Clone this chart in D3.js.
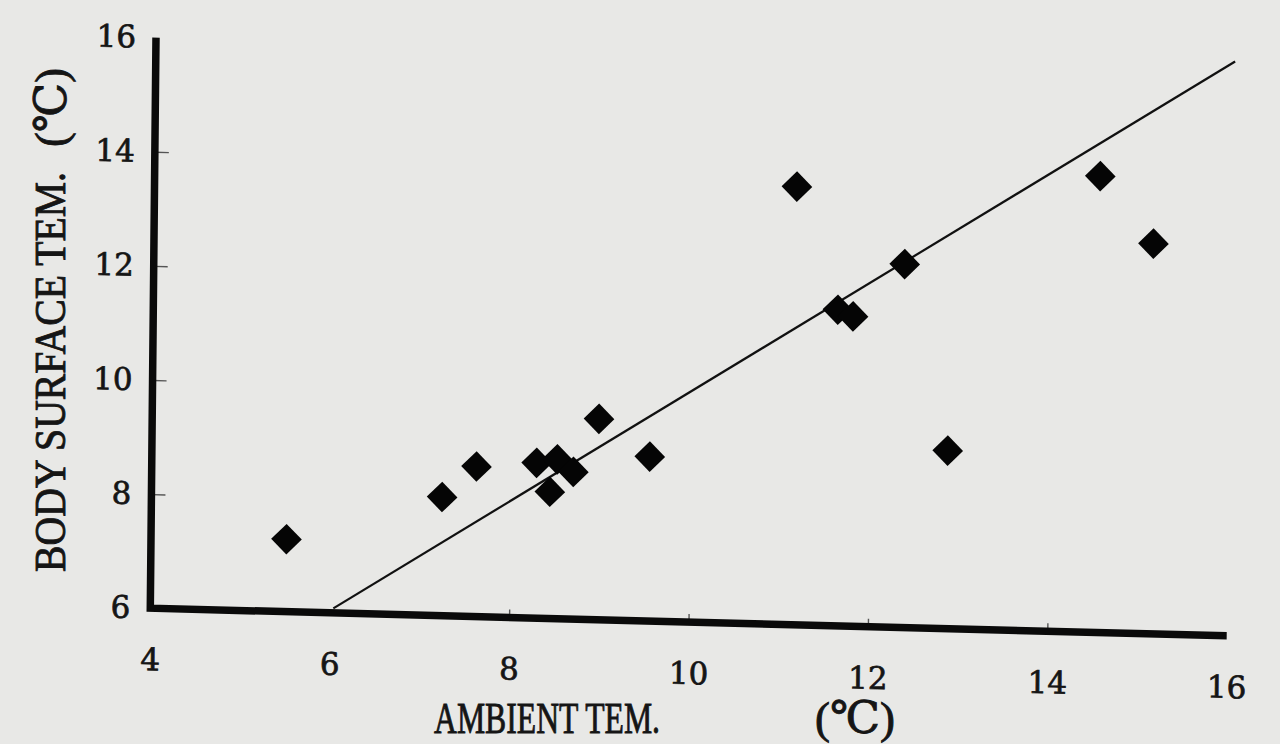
<!DOCTYPE html>
<html>
<head>
<meta charset="utf-8">
<script src="https://cdn.jsdelivr.net/npm/d3@7"></script>
<style>
  html, body { margin: 0; padding: 0; background: #e8e8e6; overflow: hidden; }
  svg { display: block; }
</style>
</head>
<body>
<script>
/***** Data *****/
var ambientTemp     = [5.51, 7.24, 7.62, 8.29, 8.52, 8.70, 8.44, 8.98, 9.55, 11.16, 11.63, 11.80, 12.37, 12.87, 14.54, 15.14];
var bodySurfaceTemp = [7.27, 8.08, 8.63, 8.72, 8.79, 8.58, 8.22, 9.52, 8.88, 13.68, 11.54, 11.43, 12.37, 9.12, 14.00, 12.84];
var fitLineX = [6.04, 16.03];
var fitLineY = [6.08, 16.07];
var xTickValues = [4, 6, 8, 10, 12, 14, 16];
var yTickValues = [6, 8, 10, 12, 14, 16];
var xTickMarks = [8, 10, 12, 14];
var yTickMarks = [8, 10, 12, 14];
var xAxisTitle = "AMBIENT TEM.";
var yAxisTitle = "BODY SURFACE TEM.";
var unitLabel = "(℃)";

(function (d3) {
  "use strict";

  /***** Configuration *****/
  var width = 1280, height = 744;
  var plotWidth = 1076.4, plotHeight = 570.5;
  var origin = { x: 150.3, y: 608.2 };
  // the scanned figure is a bit sheared
  var shearX = 0.0257, shearY = -0.00998;
  var serif = "'Liberation Serif', 'DejaVu Serif', 'Noto Sans CJK JP', serif";
  var tickFont = "'DejaVu Serif', 'Liberation Serif', serif";

  /***** Scales *****/
  var xScale = d3.scaleLinear().domain([4, 16]).range([0, plotWidth]);
  var yScale = d3.scaleLinear().domain([6, 16]).range([0, -plotHeight]);

  var svg = d3.select("body")
      .append("svg")
      .attr("width", width)
      .attr("height", height);

  svg.append("rect")
      .attr("width", width)
      .attr("height", height)
      .attr("fill", "#e8e8e6");

  var plot = svg.append("g")
      .attr("transform", "matrix(1," + shearX + "," + shearY + ",1," + origin.x + "," + origin.y + ")");

  /***** Axes *****/
  var yLabels = plot.append("g")
      .call(d3.axisLeft(yScale).tickValues(yTickValues).tickSize(0).tickPadding(20));
  var xLabels = plot.append("g")
      .call(d3.axisBottom(xScale).tickValues(xTickValues).tickSize(0).tickPadding(40));
  [yLabels, xLabels].forEach(function (g) {
    g.select(".domain").remove();
    g.selectAll("text")
        .attr("font-family", tickFont)
        .attr("font-size", 31)
        .attr("fill", "#151515")
        .attr("stroke", "#151515")
        .attr("stroke-width", 0.7);
  });

  var yTicks = plot.append("g")
      .call(d3.axisLeft(yScale).tickValues(yTickMarks).tickSize(-14).tickFormat(""));
  var xTicks = plot.append("g")
      .call(d3.axisBottom(xScale).tickValues(xTickMarks).tickSize(-8).tickFormat(""));
  [yTicks, xTicks].forEach(function (g) {
    g.select(".domain").remove();
    g.selectAll("line").attr("stroke", "#555").attr("stroke-width", 1.4);
  });

  var axisPath = d3.line()
      .x(function (d) { return xScale(d[0]); })
      .y(function (d) { return yScale(d[1]); });

  plot.append("path")
      .attr("d", axisPath([[4, 16], [4, 6], [16, 6]]))
      .attr("fill", "none")
      .attr("stroke", "#0a0a0a")
      .attr("stroke-width", 7.5)
      .attr("stroke-linejoin", "miter");

  /***** Regression line *****/
  plot.append("path")
      .attr("d", axisPath(fitLineX.map(function (x, i) { return [x, fitLineY[i]]; })))
      .attr("fill", "none")
      .attr("stroke", "#111")
      .attr("stroke-width", 2.2);

  /***** Points *****/
  var diamond = d3.symbol().type(d3.symbolSquare).size(470);
  plot.selectAll(".point")
      .data(ambientTemp.map(function (x, i) { return [x, bodySurfaceTemp[i]]; }))
      .enter()
      .append("path")
      .attr("class", "point")
      .attr("d", diamond)
      .attr("fill", "#050505")
      .attr("transform", function (d) {
        return "translate(" + xScale(d[0]) + "," + yScale(d[1]) + ") rotate(45)";
      });

  /***** Titles *****/
  function title(t, len) {
    return svg.append("text")
        .attr("font-family", serif).attr("font-size", 45)
        .attr("fill", "#151515").attr("stroke", "#151515").attr("stroke-width", 0.9)
        .attr("textLength", len).attr("lengthAdjust", "spacingAndGlyphs")
        .text(t);
  }
  title(xAxisTitle, 226).attr("x", 434).attr("y", 733);
  title(unitLabel, 80).attr("x", 815).attr("y", 733);
  title(yAxisTitle, 400).attr("transform", "translate(65,572) rotate(-90)");
  title(unitLabel, 79).attr("transform", "translate(66,147) rotate(-90)");

})(d3);
</script>
</body>
</html>
